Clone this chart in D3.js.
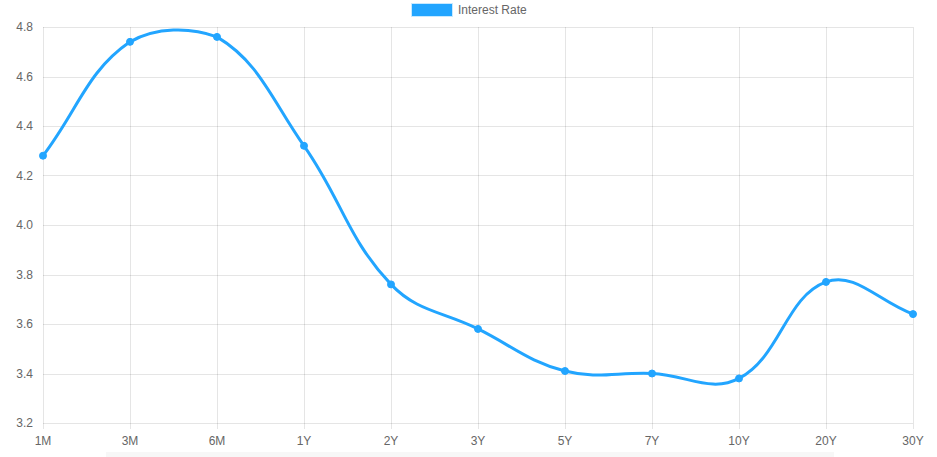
<!DOCTYPE html>
<html>
<head>
<meta charset="utf-8">
<script src="https://cdn.jsdelivr.net/npm/d3@7"></script>
<style>
  html, body { margin: 0; padding: 0; background: #fff; }
  svg { display: block; }
</style>
</head>
<body>
<svg id="chart" width="937" height="457"></svg>
<script>
const categories = ["1M", "3M", "6M", "1Y", "2Y", "3Y", "5Y", "7Y", "10Y", "20Y", "30Y"];
const rates = [4.28, 4.74, 4.76, 4.32, 3.76, 3.58, 3.41, 3.40, 3.38, 3.77, 3.64];
const yTicks = [3.2, 3.4, 3.6, 3.8, 4.0, 4.2, 4.4, 4.6, 4.8];
const seriesName = "Interest Rate";

(function () {
const W = 937, H = 457;
const pLeft = 43, pRight = 913, pTop = 27, pBottom = 423;
const color = "#22a5ff";
const gridColor = "rgba(0,0,0,0.1)";
const font = "'Helvetica Neue', Helvetica, Arial, 'Liberation Sans', sans-serif";

const svg = d3.select("#chart");

const x = d3.scalePoint().domain(categories).range([pLeft, pRight]);
const y = d3.scaleLinear().domain([3.2, 4.8]).range([pBottom, pTop]);

// faint bar at the bottom
svg.append("rect").attr("x", 106).attr("y", 452).attr("width", 728).attr("height", 5).attr("fill", "#f7f7f7");

// grid lines
const g = svg.append("g");
g.selectAll("line.h").data(yTicks).join("line")
  .attr("x1", pLeft).attr("x2", pRight)
  .attr("y1", d => Math.round(y(d)) + 0.5).attr("y2", d => Math.round(y(d)) + 0.5)
  .attr("stroke", gridColor).attr("stroke-width", 1);
g.selectAll("line.v").data(categories).join("line")
  .attr("x1", d => Math.round(x(d)) + 0.5).attr("x2", d => Math.round(x(d)) + 0.5)
  .attr("y1", pTop).attr("y2", pBottom + 6)
  .attr("stroke", gridColor).attr("stroke-width", 1);

// axis labels
svg.append("g").selectAll("text").data(yTicks).join("text")
  .attr("x", 33).attr("y", d => y(d)).attr("dy", "0.35em")
  .attr("text-anchor", "end")
  .attr("font-family", font).attr("font-size", 12).attr("fill", "#666")
  .text(d => d.toFixed(1));
svg.append("g").selectAll("text").data(categories).join("text")
  .attr("x", d => x(d)).attr("y", 441).attr("dy", "0.35em")
  .attr("text-anchor", "middle")
  .attr("font-family", font).attr("font-size", 12).attr("fill", "#666")
  .text(d => d);

// Chart.js-style spline (tension 0.4)
const pts = categories.map((c, i) => ({ x: x(c), y: y(rates[i]) }));
const t = 0.4;
const clamp = (v, a, b) => Math.max(a, Math.min(b, v));
pts.forEach((p, i) => {
  const prev = i > 0 ? pts[i - 1] : p;
  const next = i < pts.length - 1 ? pts[i + 1] : p;
  const d01 = Math.hypot(p.x - prev.x, p.y - prev.y);
  const d12 = Math.hypot(next.x - p.x, next.y - p.y);
  let s01 = d01 / (d01 + d12), s12 = d12 / (d01 + d12);
  if (isNaN(s01)) s01 = 0; if (isNaN(s12)) s12 = 0;
  const fa = t * s01, fb = t * s12;
  p.cpx = clamp(p.x - fa * (next.x - prev.x), pLeft, pRight);
  p.cpy = clamp(p.y - fa * (next.y - prev.y), pTop, pBottom);
  p.cnx = clamp(p.x + fb * (next.x - prev.x), pLeft, pRight);
  p.cny = clamp(p.y + fb * (next.y - prev.y), pTop, pBottom);
});
const path = d3.path();
path.moveTo(pts[0].x, pts[0].y);
for (let i = 1; i < pts.length; i++) {
  const a = pts[i - 1], b = pts[i];
  path.bezierCurveTo(a.cnx, a.cny, b.cpx, b.cpy, b.x, b.y);
}
svg.append("path").attr("d", path.toString())
  .attr("fill", "none").attr("stroke", color).attr("stroke-width", 3);

svg.append("g").selectAll("circle").data(pts).join("circle")
  .attr("cx", d => d.x).attr("cy", d => d.y).attr("r", 3.5)
  .attr("fill", color).attr("stroke", color).attr("stroke-width", 1);

// legend
const leg = svg.append("g");
leg.append("rect").attr("x", 411.5).attr("y", 3.5).attr("width", 41).attr("height", 13)
  .attr("fill", color).attr("stroke", "#c8e9ff").attr("stroke-width", 1);
leg.append("text").attr("x", 458).attr("y", 10).attr("dy", "0.35em")
  .attr("font-family", font).attr("font-size", 12).attr("fill", "#666")
  .text(seriesName);
})();
</script>
</body>
</html>
